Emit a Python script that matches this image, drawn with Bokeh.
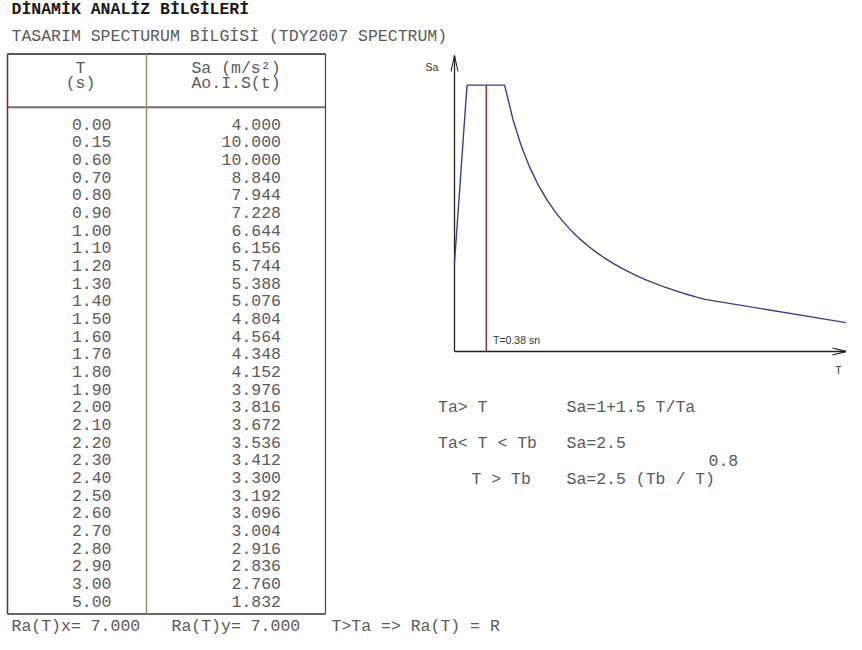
from bokeh.plotting import figure
from bokeh.models import Range1d, ColumnDataSource
from bokeh.core.properties import value
from bokeh.embed import file_html
from bokeh.resources import INLINE

# ---------------- data ----------------
title = "DİNAMİK ANALİZ BİLGİLERİ"
subtitle = "TASARIM SPECTURUM BİLGİSİ (TDY2007 SPECTRUM)"
head_T = ["T", "(s)"]
head_Sa = ["Sa (m/s²)", "Ao.I.S(t)"]
T_values = [0.00, 0.15, 0.60, 0.70, 0.80, 0.90, 1.00, 1.10, 1.20, 1.30, 1.40,
            1.50, 1.60, 1.70, 1.80, 1.90, 2.00, 2.10, 2.20, 2.30, 2.40, 2.50,
            2.60, 2.70, 2.80, 2.90, 3.00, 5.00]
Sa_values = [4.000, 10.000, 10.000, 8.840, 7.944, 7.228, 6.644, 6.156, 5.744,
             5.388, 5.076, 4.804, 4.564, 4.348, 4.152, 3.976, 3.816, 3.672,
             3.536, 3.412, 3.300, 3.192, 3.096, 3.004, 2.916, 2.836, 2.760,
             1.832]
T_mark = 0.38
T_mark_label = "T=0.38 sn"
Ra_x_label = "Ra(T)x= 7.000"
Ra_y_label = "Ra(T)y= 7.000"
Ra_rule = "T>Ta => Ra(T) = R"
formula_left = ["Ta> T", "Ta< T < Tb", "T > Tb"]
formula_right = ["Sa=1+1.5 T/Ta", "Sa=2.5", "Sa=2.5 (Tb / T)"]
exponent = "0.8"

# ---------------- page figure (pixel coordinates, y downwards) ----------------
W, H = 846, 634
p = figure(width=W, height=H, x_range=Range1d(0, W), y_range=Range1d(H, 0),
           output_backend="svg", toolbar_location=None,
           x_axis_type=None, y_axis_type=None, min_border=0)
p.grid.visible = False
p.outline_line_color = None
p.background_fill_color = "white"

MONO = value("Liberation Mono")
SANS = value("Liberation Sans")
FS = "16.5px"
TXT = "#5a5a5a"

# titles
p.text(x=[11], y=[8.5], text=[title], text_font=MONO, text_font_size=FS,
       text_font_style="bold", text_color="#1a1a1a", text_baseline="middle")
p.text(x=[11], y=[36], text=[subtitle], text_font=MONO, text_font_size=FS,
       text_color=TXT, text_baseline="middle")

# table frame
tl, tr, tt, tb, tm, th = 7, 325, 53.5, 613.5, 146, 106.7
p.segment(x0=[tl], y0=[tt], x1=[tr], y1=[tt], line_color="#222222", line_width=1.5)
p.segment(x0=[tl], y0=[tb], x1=[tr], y1=[tb], line_color="#333333", line_width=1.5)
p.segment(x0=[tl], y0=[th], x1=[tr], y1=[th], line_color="#707070", line_width=2)
p.segment(x0=[tl], y0=[tt], x1=[tl], y1=[tb], line_color="#7a2046", line_width=1.5)
p.segment(x0=[tr], y0=[tt], x1=[tr], y1=[tb], line_color="#444444", line_width=1.2)
p.segment(x0=[tm], y0=[tt], x1=[tm], y1=[tb], line_color="#a88a64", line_width=1.5)

# header
p.text(x=[80, 80], y=[67.5, 82.5], text=head_T, text_font=MONO, text_font_size=FS,
       text_color=TXT, text_align="center", text_baseline="middle")
p.text(x=[235.5, 235.5], y=[67.5, 82.5], text=head_Sa, text_font=MONO, text_font_size=FS,
       text_color=TXT, text_align="center", text_baseline="middle")

# rows
row0, row_h = 123.5, 17.67
rows = ColumnDataSource(dict(
    y=[row0 + i * row_h for i in range(len(T_values))],
    t=[f"{v:.2f}" for v in T_values],
    s=[f"{v:.3f}" for v in Sa_values],
))
p.text(x=111, y="y", text="t", source=rows, text_font=MONO, text_font_size=FS,
       text_color=TXT, text_align="right", text_baseline="middle")
p.text(x=280.5, y="y", text="s", source=rows, text_font=MONO, text_font_size=FS,
       text_color=TXT, text_align="right", text_baseline="middle")

# bottom line
p.text(x=[11, 171, 331], y=[625.5, 625.5, 625.5], text=[Ra_x_label, Ra_y_label, Ra_rule],
       text_font=MONO, text_font_size=FS, text_color=TXT, text_baseline="middle")

# formulas
p.text(x=[437.5, 437.5, 471], y=[406.5, 443, 479], text=formula_left,
       text_font=MONO, text_font_size=FS, text_color=TXT, text_baseline="middle")
p.text(x=[566, 566, 566], y=[406.5, 443, 479], text=formula_right,
       text_font=MONO, text_font_size=FS, text_color=TXT, text_baseline="middle")
p.text(x=[708], y=[460], text=[exponent], text_font=MONO, text_font_size=FS,
       text_color=TXT, text_baseline="middle")

# ---------------- spectrum sketch via sub-coordinates ----------------
sub = p.subplot(x_source=Range1d(0, 5), y_source=Range1d(1, 11),
                x_target=Range1d(454, 871.5), y_target=Range1d(351, 55))

AX = "#222222"
x_axis_end = 4.7
# axes
sub.segment(x0=[0], y0=[1], x1=[0], y1=[11], line_color=AX, line_width=1.3)
sub.segment(x0=[0], y0=[1], x1=[x_axis_end], y1=[1], line_color=AX, line_width=1.3)
# arrow heads (pixels)
p.multi_line(xs=[[450.5, 454, 457.5], [832, 846, 832]],
             ys=[[71, 55, 71], [347.5, 351, 354.5]], line_color=AX, line_width=1.1)

# spectrum curve and period marker
sub.line(x=T_values, y=Sa_values, line_color="#3c3c8c", line_width=1.4)
sub.segment(x0=[T_mark], y0=[1], x1=[T_mark], y1=[max(Sa_values)],
            line_color="#8b1a1a", line_width=1.3)

# sketch labels
p.text(x=[431.5], y=[66.5], text=["Sa"], text_font=SANS, text_font_size="10.5px",
       text_color="#333333", text_align="center", text_baseline="middle")
p.text(x=[838], y=[369], text=["T"], text_font=SANS, text_font_size="10.5px",
       text_color="#333333", text_align="center", text_baseline="middle")
p.text(x=[492.5], y=[339], text=[T_mark_label], text_font=SANS, text_font_size="10.5px",
       text_color="#333333", text_baseline="middle")

open("out.html", "w").write(file_html(p, INLINE))
